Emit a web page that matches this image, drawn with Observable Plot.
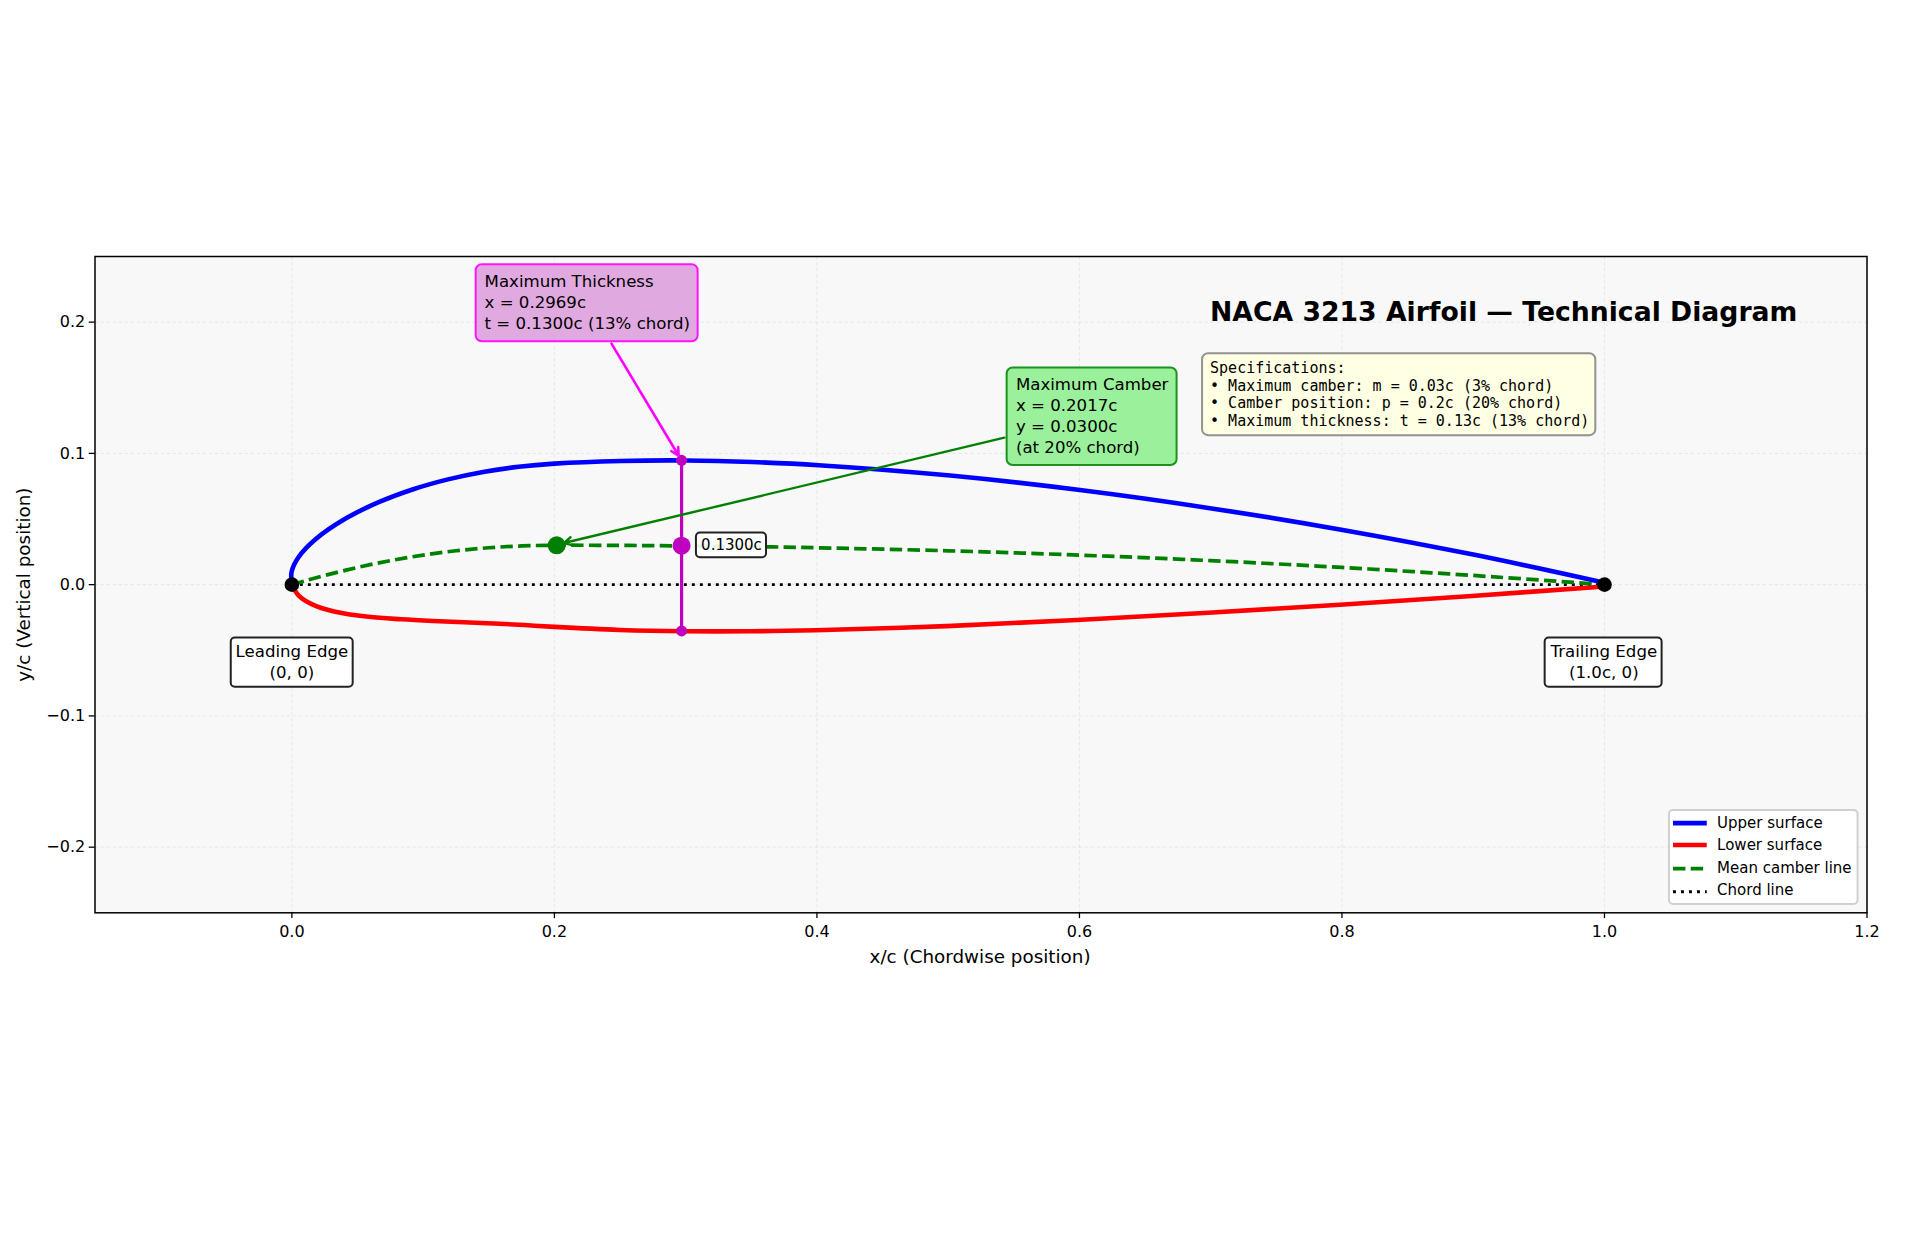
<!DOCTYPE html>
<html>
<head>
<meta charset="utf-8">
<script src="https://cdn.jsdelivr.net/npm/d3@7"></script>
<script src="https://cdn.jsdelivr.net/npm/@observablehq/plot@0.6"></script>
<style>html,body{margin:0;padding:0;background:#fff}svg{display:block}</style>
</head>
<body>
<div id="chart"></div>
<script>
const upperX = [0,-0.0002,0.0049,0.0178,0.0416,0.0666,0.0925,0.1189,0.1457,0.1727,0.2,0.2503,0.3006,0.3509,0.4012,0.5016,0.6019,0.7019,0.8016,0.901,1.0];
const upperY = [0,0.0098,0.0207,0.0344,0.0507,0.063,0.0727,0.0802,0.0859,0.0898,0.0922,0.0942,0.0946,0.0934,0.091,0.0831,0.0719,0.0579,0.0415,0.0227,0.0014];
const lowerX = [0,0.0052,0.0151,0.0322,0.0585,0.0834,0.1075,0.1311,0.1543,0.1773,0.2,0.2497,0.2994,0.3491,0.3988,0.4984,0.5981,0.6981,0.7984,0.899,1.0];
const lowerY = [0,-0.0083,-0.0148,-0.0204,-0.0245,-0.0264,-0.0277,-0.0287,-0.0296,-0.0308,-0.0322,-0.0345,-0.0355,-0.0355,-0.0347,-0.0316,-0.0269,-0.0214,-0.0153,-0.0086,-0.0014];
const camberX = [0,0.01,0.025,0.05,0.075,0.1,0.125,0.15,0.175,0.2,0.25,0.3,0.35,0.4,0.5,0.6,0.7,0.8,0.9,1.0];
const camberY = [0,0.0029,0.007,0.0131,0.0183,0.0225,0.0258,0.0281,0.0295,0.03,0.0299,0.0295,0.029,0.0281,0.0258,0.0225,0.0183,0.0131,0.007,0];
const chordX = [0,1];
const chordY = [0,0];
const maxCamber = {x:0.2017, y:0.03};
const maxThickness = {x:0.2969, top:0.0947, mid:0.0297, bottom:-0.0353};
const xTicks = [0,0.2,0.4,0.6,0.8,1.0,1.2];
const yTicks = [-0.2,-0.1,0,0.1,0.2];
const legendLabels = ["Upper surface","Lower surface","Mean camber line","Chord line"];
const specText = "Specifications:\n• Maximum camber: m = 0.03c (3% chord)\n• Camber position: p = 0.2c (20% chord)\n• Maximum thickness: t = 0.13c (13% chord)";
const thickText = "Maximum Thickness\nx = 0.2969c\nt = 0.1300c (13% chord)";
const camberText = "Maximum Camber\nx = 0.2017c\ny = 0.0300c\n(at 20% chord)";

const pts = (xs,ys)=>xs.map((x,i)=>({x,y:ys[i]}));
const FS = 16.6, FONT = "DejaVu Sans";
const box = (b,o)=>Plot.rect([b],{x1:"x1",x2:"x2",y1:"y1",y2:"y2",rx:o.rx??6,fill:o.fill,fillOpacity:o.fo??1,stroke:o.stroke,strokeOpacity:o.so??1,strokeWidth:o.sw??2});
const label = (t,x,y,o={})=>Plot.text([t],{x:()=>x,y:()=>y,text:d=>d,fontSize:o.fs??FS,fill:o.fill??"black",textAnchor:o.anchor??"middle",lineAnchor:"middle",lineHeight:o.lh??1.26,fontFamily:o.font??FONT,fontWeight:o.weight??"normal",rotate:o.rotate??0});

const chart = Plot.plot({
  width:1920, height:1260,
  marginLeft:94.5, marginRight:53.5, marginTop:256, marginBottom:347.7,
  style:{fontFamily:FONT, background:"#fff", color:"black"},
  x:{domain:[-0.15,1.2]},
  y:{domain:[-0.25,0.25]},
  marks:[
    Plot.frame({fill:"#f8f8f8",stroke:"none"}),
    Plot.gridX(xTicks,{stroke:"#d8d8d8",strokeOpacity:0.5,strokeWidth:1,strokeDasharray:"3.5 2.5"}),
    Plot.gridY(yTicks,{stroke:"#d8d8d8",strokeOpacity:0.5,strokeWidth:1,strokeDasharray:"3.5 2.5"}),
    Plot.line(pts(chordX,chordY),{x:"x",y:"y",stroke:"black",strokeWidth:2.9,strokeLinecap:"butt",strokeDasharray:"2.9 5.1"}),
    Plot.line(pts(upperX,upperY),{x:"x",y:"y",stroke:"#0000ff",strokeWidth:4.6,curve:"catmull-rom"}),
    Plot.line(pts(lowerX,lowerY),{x:"x",y:"y",stroke:"#ff0000",strokeWidth:4.6,curve:"catmull-rom"}),
    Plot.line(pts(camberX,camberY),{x:"x",y:"y",stroke:"#008000",strokeWidth:3.7,strokeLinecap:"butt",strokeDasharray:"12.4 5.3",curve:"catmull-rom"}),
    Plot.dot([maxCamber],{x:"x",y:"y",r:9,fill:"#008000"}),
    Plot.ruleX([maxThickness],{x:"x",y1:"bottom",y2:"top",stroke:"#bf00bf",strokeWidth:3.2}),
    Plot.dot([maxThickness],{x:"x",y:"top",r:5.5,fill:"#bf00bf"}),
    Plot.dot([maxThickness],{x:"x",y:"bottom",r:5.5,fill:"#bf00bf"}),
    Plot.dot([maxThickness],{x:"x",y:"mid",r:9,fill:"#bf00bf"}),
    Plot.dot(pts(chordX,chordY),{x:"x",y:"y",r:7.3,fill:"black"}),
    Plot.arrow([{x1:0.2435,y1:0.1836,x2:0.2947,y2:0.0982}],{x1:"x1",y1:"y1",x2:"x2",y2:"y2",stroke:"#ff00ff",strokeWidth:2.6,headLength:5,headAngle:55}),
    Plot.arrow([{x1:0.5428,y1:0.112,x2:0.2072,y2:0.0317}],{x1:"x1",y1:"y1",x2:"x2",y2:"y2",stroke:"#008000",strokeWidth:2.4,headLength:5.5,headAngle:55}),
    box({x1:0.1404,x2:0.3095,y1:0.1851,y2:0.2437},{fill:"#dda0dd",fo:0.9,stroke:"#ff00ff",so:0.9}),
    label(thickText,0.1468,0.2159,{anchor:"start"}),
    box({x1:0.5449,x2:0.6744,y1:0.0908,y2:0.165},{fill:"#90ee90",fo:0.9,stroke:"#008000",so:0.85}),
    label(camberText,0.5516,0.1294,{anchor:"start"}),
    box({x1:0.6938,x2:0.9934,y1:0.1135,y2:0.1759},{fill:"#ffffe0",fo:0.9,stroke:"#808080",so:0.85}),
    label(specText,0.6995,0.1455,{anchor:"start",fs:15,lh:1.167,font:"DejaVu Sans Mono"}),
    box({x1:-0.0462,x2:0.0467,y1:-0.0781,y2:-0.0407},{fill:"#fff",stroke:"#222",rx:4}),
    label("Leading Edge\n(0, 0)",0,-0.0579),
    box({x1:0.9548,x2:1.0439,y1:-0.0781,y2:-0.0407},{fill:"#fff",stroke:"#222",rx:4}),
    label("Trailing Edge\n(1.0c, 0)",0.9995,-0.0579),
    box({x1:0.3082,x2:0.3616,y1:0.0205,y2:0.0393},{fill:"#fff",fo:0.9,stroke:"#222",rx:4}),
    label("0.1300c",0.3349,0.0307,{fs:15}),
    label("NACA 3213 Airfoil — Technical Diagram",0.9232,0.2089,{fs:26.67,weight:"bold"}),
    box({x1:1.0495,x2:1.1932,y1:-0.2436,y2:-0.172},{fill:"#fff",stroke:"#d0d0d0",rx:4}),
    Plot.ruleY([-0.1817],{x1:1.0526,x2:1.0783,stroke:"#0000ff",strokeWidth:4.6}),
    Plot.ruleY([-0.1984],{x1:1.0526,x2:1.0783,stroke:"#ff0000",strokeWidth:4.6}),
    Plot.ruleY([-0.2164],{x1:1.0526,x2:1.0783,stroke:"#008000",strokeWidth:3.7,strokeDasharray:"12.4 5.3"}),
    Plot.ruleY([-0.234],{x1:1.0526,x2:1.0783,stroke:"black",strokeWidth:2.9,strokeDasharray:"2.9 5.1"}),
    label(legendLabels[0],1.0858,-0.1805,{anchor:"start",fs:15}),
    label(legendLabels[1],1.0858,-0.1972,{anchor:"start",fs:15}),
    label(legendLabels[2],1.0858,-0.215,{anchor:"start",fs:15}),
    label(legendLabels[3],1.0858,-0.232,{anchor:"start",fs:15}),
    Plot.axisX(xTicks,{anchor:"bottom",tickSize:5.8,tickPadding:7.5,fontSize:16,label:null,tickFormat:d3.format(".1f"),strokeWidth:1.3}),
    Plot.axisY(yTicks,{anchor:"left",tickSize:5.8,tickPadding:4,fontSize:16,label:null,tickFormat:d3.format(".1f"),strokeWidth:1.3}),
    label("x/c (Chordwise position)",0.5243,-0.2827,{fs:18.33}),
    label("y/c (Vertical position)",-0.2052,0,{fs:18.33,rotate:-90}),
    Plot.frame({stroke:"black",strokeWidth:1.5})
  ]
});
document.getElementById("chart").append(chart);
</script>
</body>
</html>
